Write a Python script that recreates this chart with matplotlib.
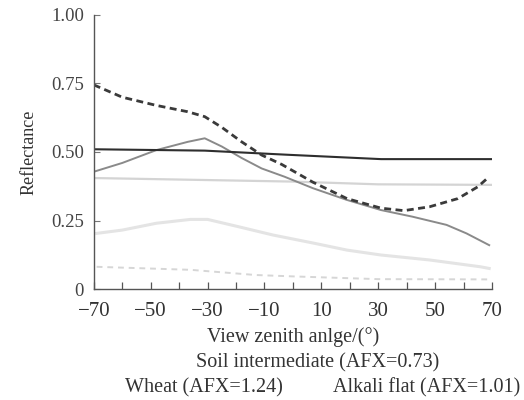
import matplotlib
matplotlib.use("Agg")
import matplotlib.pyplot as plt
from matplotlib.ticker import MultipleLocator

plt.rcParams["font.family"] = ["Liberation Serif", "DejaVu Serif"]

# reflectance vs view zenith angle, read per curve
x_dash = [-70, -60, -48, -37, -31, -25, -18, -11, -4, 7, 19, 31, 39, 48, 58, 65, 69]
y_dash = [0.745, 0.70, 0.67, 0.647, 0.629, 0.59, 0.537, 0.489, 0.455, 0.39, 0.33, 0.295, 0.286, 0.30, 0.33, 0.373, 0.41]

x_solid = [-70, -31, -2, 31, 70]
y_solid = [0.51, 0.505, 0.49, 0.474, 0.474]

x_grey = [-70, -60, -48, -37, -31, -25, -18, -11, -3, 7, 19, 31, 42, 54, 61, 69]
y_grey = [0.428, 0.46, 0.507, 0.537, 0.55, 0.52, 0.478, 0.44, 0.41, 0.368, 0.325, 0.288, 0.264, 0.234, 0.203, 0.16]

x_light = [-70, 0, 30, 70]
y_light = [0.405, 0.392, 0.382, 0.38]

x_faint = [-69, -60, -48, -36, -30, -19, -7, 7, 19, 31, 48, 66, 69]
y_faint = [0.203, 0.215, 0.24, 0.254, 0.254, 0.227, 0.197, 0.168, 0.142, 0.124, 0.106, 0.081, 0.075]

x_fdash = [-69, -36, -13, 0, 30, 70]
y_fdash = [0.081, 0.07, 0.051, 0.046, 0.036, 0.035]

x_ticklabels = [-70, -50, -30, -10, 10, 30, 50, 70]
y_ticks = [0, 0.25, 0.50, 0.75, 1.00]
y_ticklabels = ["0", "0.25", "0.50", "0.75", "1.00"]

fig = plt.figure(figsize=(5.24, 4.0), dpi=100)
ax = fig.add_axes([0.179, 0.2775, 0.760, 0.685])

ax.plot(x_faint, y_faint, color="#e4e4e4", lw=2.2)
ax.plot(x_fdash, y_fdash, color="#d6d6d6", lw=1.4, ls=(0, (3, 2.5)))
ax.plot(x_light, y_light, color="#d4d4d4", lw=1.6)
ax.plot(x_grey, y_grey, color="#8a8a8a", lw=1.4)
ax.plot(x_solid, y_solid, color="#2e2e2e", lw=1.5)
ax.plot(x_dash, y_dash, color="#3a3a3a", lw=2.0, ls=(0, (2.5, 1.6)))

ax.set_xlim(-70, 70)
ax.set_ylim(0, 1.0)
ax.set_xticks(x_ticklabels)
ax.set_xticklabels([str(v).replace("-", "\u2212") for v in x_ticklabels])
ax.xaxis.set_minor_locator(MultipleLocator(10))
ax.set_yticks(y_ticks)
ax.set_yticklabels(y_ticklabels)

for side in ("top", "right"):
    ax.spines[side].set_visible(False)
for side in ("left", "bottom"):
    ax.spines[side].set_color("#555555")
    ax.spines[side].set_linewidth(1.0)

ax.tick_params(axis="x", which="both", direction="in", length=5, width=0.9,
               color="#555555", labelsize=15, labelcolor="#333333", pad=9)
ax.tick_params(axis="y", which="both", direction="in", length=4, width=0.8,
               color="#777777", labelsize=13.5, labelcolor="#444444", pad=7)

ax.set_ylabel("Reflectance", fontsize=13, color="#333333", labelpad=10)

txt = dict(ha="center", va="center", fontsize=14.5, color="#333333")
fig.text(0.559, 0.158, "View zenith anlge/(\u00b0)", **txt)
fig.text(0.607, 0.093, "Soil intermediate (AFX=0.73)", **txt)
fig.text(0.389, 0.031, "Wheat (AFX=1.24)", **txt)
fig.text(0.815, 0.031, "Alkali flat (AFX=1.01)", **txt)

fig.savefig("out.png", dpi=100)
plt.close(fig)
